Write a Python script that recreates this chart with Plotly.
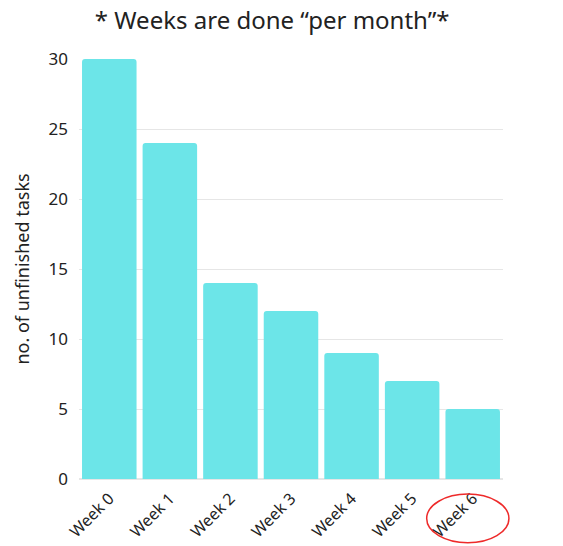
import plotly.graph_objects as go

# 数据
weeks = ['Week 0', 'Week 1', 'Week 2', 'Week 3', 'Week 4', 'Week 5', 'Week 6']
unfinished = [30, 24, 14, 12, 9, 7, 5]
y_ticks = [0, 5, 10, 15, 20, 25, 30]

BAR_COLOR = '#6ce5e8'
TEXT_COLOR = '#222222'
FONT = 'Noto Sans'

fig = go.Figure()
fig.add_trace(go.Bar(
    x=weeks, y=unfinished,
    marker=dict(color=BAR_COLOR, line=dict(width=0), cornerradius=3),
    hoverinfo='x+y',
))

# 红色椭圆圈出 Week 6
fig.add_shape(
    type='circle', xref='paper', yref='paper',
    x0=0.82, x1=1.014, y0=-0.152, y1=-0.036,
    line=dict(color='#ee2a2a', width=1.5),
)

fig.update_layout(
    width=555, height=538,
    template='plotly_white',
    plot_bgcolor='white', paper_bgcolor='white',
    font=dict(family=FONT, color=TEXT_COLOR, size=17),
    title=dict(text='* Weeks are done “per month”*', x=0.476, xanchor='center',
               y=1, yanchor='top', pad=dict(t=4),
               font=dict(size=24, color=TEXT_COLOR)),
    margin=dict(l=71, r=60, t=51, b=67),
    bargap=0.1,
    showlegend=False,
    xaxis=dict(tickangle=-45, showgrid=False, showline=False, ticks='',
               tickfont=dict(size=16), automargin=False, ticklabelstandoff=6),
    yaxis=dict(range=[0, 30], tickvals=y_ticks, gridcolor='#e6e6e6', gridwidth=1,
               zeroline=True, zerolinecolor='#e6e6e6', ticks='',
               tickfont=dict(size=17), automargin=False,
               title=dict(text='no. of unfinished tasks', font=dict(size=18), standoff=14),
               ticklabelstandoff=10),
)

fig.write_html("out.html")
